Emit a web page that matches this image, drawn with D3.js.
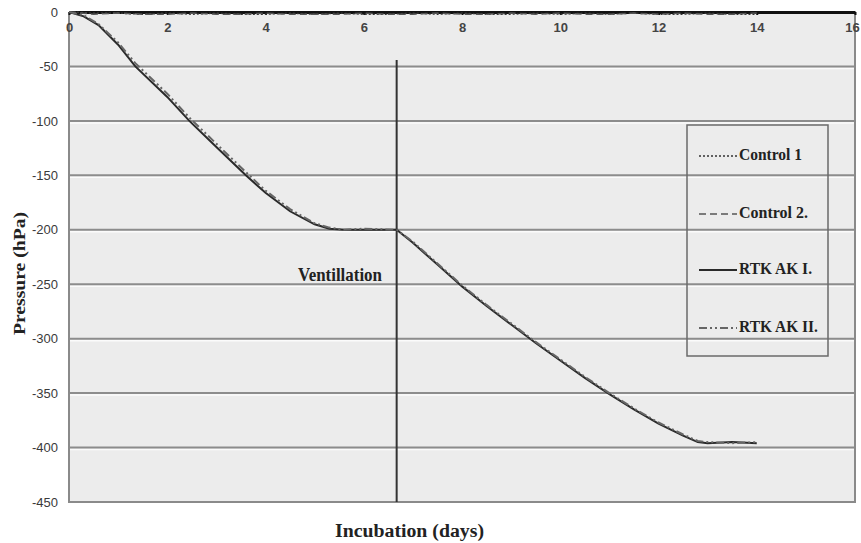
<!DOCTYPE html>
<html>
<head>
<meta charset="utf-8">
<script src="https://cdn.jsdelivr.net/npm/d3@7"></script>
<style>
  html, body { margin: 0; padding: 0; background: #fff; }
  svg { display: block; }
</style>
</head>
<body>
<svg id="chart" width="861" height="543"></svg>
<script>
// Incubation time (days) and headspace pressure (hPa)
const controlDays = [0, 0.5, 1, 1.5, 2, 2.5, 3, 3.5, 4, 4.5, 5, 5.5, 6, 6.5, 7, 7.5, 8, 8.5, 9, 9.5, 10, 10.5, 11, 11.5, 12, 12.5, 13, 13.5, 14];
const control1 = [0, -1, -1, -2, -1, -2, -1, -2, -2, -1, -2, -1, -2, -2, -1, -2, -1, -2, -2, -1, -2, -1, -2, -1, -2, -2, -1, -2, -2];
const control2 = [0, -2, -1, -2, -2, -1, -2, -2, -1, -2, -2, -2, -1, -2, -2, -1, -2, -2, -1, -2, -1, -2, -2, -1, -2, -1, -2, -2, -1];

const rtkDays = [0, 0.3, 0.6, 1.0, 1.35, 2.0, 2.45, 3.0, 3.6, 4.0, 4.5, 5.0, 5.3, 5.6, 6.0, 6.67, 7.0, 7.5, 8.0, 8.5, 9.0, 9.5, 10.0, 10.5, 11.0, 11.5, 12.0, 12.5, 12.8, 13.0, 13.5, 14.0];
const rtkAK1 = [0, -4, -12, -30, -50, -78, -100, -124, -150, -166, -183, -195, -199, -200, -200, -200, -212, -232, -252, -270, -287, -304, -320, -336, -351, -365, -378, -389, -395, -396, -395, -396];
const rtkAK2 = [0, -3, -11, -28, -47, -75, -97, -121, -147, -164, -181, -194, -198, -200, -199, -200, -211, -231, -251, -269, -286, -303, -319, -335, -350, -364, -377, -388, -394, -395, -396, -395];

const ventilationDay = 6.67;

const xTicks = [0, 2, 4, 6, 8, 10, 12, 14, 16];
const yTicks = [0, -50, -100, -150, -200, -250, -300, -350, -400, -450];

const seriesNames = ["Control 1", "Control 2.", "RTK AK I.", "RTK AK II."];

const svg = d3.select("#chart");
const plotLeft = 69, plotRight = 855, plotTop = 12, plotBottom = 502;
const serif = "Liberation Serif, Times New Roman, serif";
const sans = "Liberation Sans, Arial, sans-serif";

const x = d3.scaleLinear().domain([0, 16]).range([plotLeft, plotRight]);
const y = d3.scaleLinear().domain([-450, 0]).range([plotBottom, plotTop]);

// plot area
svg.append("rect")
  .attr("x", plotLeft).attr("y", plotTop)
  .attr("width", plotRight - plotLeft).attr("height", plotBottom - plotTop)
  .attr("fill", "#ececec");

// horizontal gridlines
const grid = svg.append("g");
yTicks.filter(t => t !== 0 && t !== -450).forEach(t => {
  grid.append("line")
    .attr("x1", plotLeft).attr("x2", plotRight)
    .attr("y1", y(t) + 2).attr("y2", y(t) + 2)
    .attr("stroke", "#fbfbfb").attr("stroke-width", 1.5);
  grid.append("line")
    .attr("x1", plotLeft).attr("x2", plotRight)
    .attr("y1", y(t)).attr("y2", y(t))
    .attr("stroke", "#8c8c8c").attr("stroke-width", 2);
});

// frame: left, right, bottom
svg.append("path")
  .attr("d", `M${plotLeft},${plotTop}V${plotBottom}H${plotRight}V${plotTop}`)
  .attr("fill", "none").attr("stroke", "#8a8a8a").attr("stroke-width", 2);

// y axis labels
const yAxis = d3.axisLeft(y).tickValues(yTicks).tickSize(0).tickPadding(11)
  .tickFormat(d => String(d));
const gy = svg.append("g").attr("transform", `translate(${plotLeft},0)`).call(yAxis);
gy.select(".domain").remove();
gy.selectAll("text")
  .attr("font-family", sans)
  .attr("font-size", 13).attr("fill", "#3a3a3a");

// x axis along the zero line
const xAxis = d3.axisBottom(x).tickValues(xTicks).tickSizeInner(3).tickSizeOuter(0).tickPadding(8)
  .tickFormat(d => String(d));
const gx = svg.append("g").attr("transform", `translate(0,${y(0)})`).call(xAxis);
gx.select(".domain").attr("stroke", "#111").attr("stroke-width", 3);
gx.selectAll(".tick line").attr("stroke", "#111").attr("stroke-width", 2);
gx.selectAll("text")
  .attr("font-family", sans).attr("font-weight", "bold")
  .attr("font-size", 13).attr("fill", "#444")
  .attr("dx", d => d === 16 ? -3 : 0);

// ventilation marker
svg.append("line")
  .attr("x1", x(ventilationDay)).attr("x2", x(ventilationDay))
  .attr("y1", y(-44)).attr("y2", y(-450))
  .attr("stroke", "#333").attr("stroke-width", 2);
svg.append("text")
  .attr("x", 298).attr("y", 281)
  .attr("textLength", 84).attr("lengthAdjust", "spacingAndGlyphs")
  .attr("font-family", serif)
  .attr("font-weight", "bold").attr("font-size", 18)
  .attr("fill", "#222")
  .text("Ventillation");

// series
const line = d3.line().x(d => x(d[0])).y(d => y(d[1]));
const styles = [
  { dash: "2,2", width: 1.5, color: "#333" },
  { dash: "7,4", width: 1.5, color: "#555" },
  { dash: null, width: 2, color: "#2a2a2a" },
  { dash: "8,3,2,3,2,3", width: 2, color: "#666" }
];
const seriesData = [
  d3.zip(controlDays, control1),
  d3.zip(controlDays, control2),
  d3.zip(rtkDays, rtkAK1),
  d3.zip(rtkDays, rtkAK2)
];
seriesData.forEach((data, i) => {
  const s = styles[i];
  svg.append("path")
    .datum(data)
    .attr("d", line)
    .attr("fill", "none")
    .attr("stroke", s.color)
    .attr("stroke-width", s.width)
    .attr("stroke-dasharray", s.dash);
});

// legend
const legend = svg.append("g");
legend.append("rect")
  .attr("x", 687).attr("y", 125).attr("width", 141).attr("height", 231)
  .attr("fill", "none").attr("stroke", "#6a6a6a").attr("stroke-width", 1.5);
const legendY = [160, 218, 274, 332];
const legendWidths = [63, 69, 73, 79];
seriesNames.forEach((name, i) => {
  const s = styles[i];
  legend.append("line")
    .attr("x1", 699).attr("x2", 737)
    .attr("y1", legendY[i] - 4).attr("y2", legendY[i] - 4)
    .attr("stroke", s.color).attr("stroke-width", s.width)
    .attr("stroke-dasharray", s.dash);
  legend.append("text")
    .attr("x", 739).attr("y", legendY[i])
    .attr("textLength", legendWidths[i]).attr("lengthAdjust", "spacingAndGlyphs")
    .attr("font-family", serif)
    .attr("font-weight", "bold").attr("font-size", 16)
    .attr("fill", "#222")
    .text(name);
});

// axis titles
svg.append("text")
  .attr("x", 335).attr("y", 537)
  .attr("textLength", 149).attr("lengthAdjust", "spacingAndGlyphs")
  .attr("font-family", serif)
  .attr("font-weight", "bold").attr("font-size", 18)
  .attr("fill", "#222")
  .text("Incubation (days)");
svg.append("text")
  .attr("transform", "translate(25,335) rotate(-90)")
  .attr("textLength", 123).attr("lengthAdjust", "spacingAndGlyphs")
  .attr("font-family", serif)
  .attr("font-weight", "bold").attr("font-size", 17)
  .attr("fill", "#222")
  .text("Pressure (hPa)");
</script>
</body>
</html>
